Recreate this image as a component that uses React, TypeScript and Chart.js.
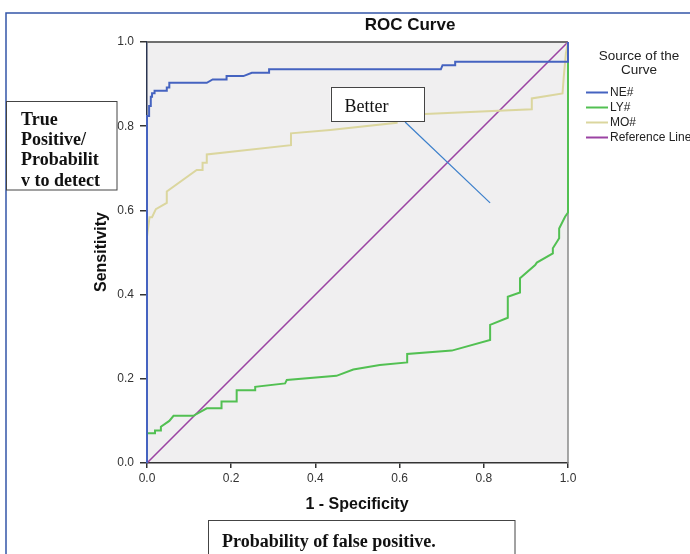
import { useEffect, useRef } from "react";
import { Chart, registerables } from "chart.js";

Chart.register(...registerables);

// ---- data ----
const neX = [0, 0, 0.005, 0.005, 0.009, 0.009, 0.012, 0.012, 0.018, 0.018, 0.047, 0.047, 0.053, 0.053, 0.142, 0.156, 0.189, 0.189, 0.229, 0.249, 0.29, 0.29, 0.698, 0.702, 0.732, 0.732, 0.997, 1.0, 1.0];
const neY = [0, 0.824, 0.824, 0.848, 0.848, 0.87, 0.87, 0.878, 0.878, 0.884, 0.884, 0.892, 0.892, 0.903, 0.903, 0.911, 0.911, 0.919, 0.919, 0.927, 0.927, 0.935, 0.935, 0.945, 0.945, 0.953, 0.953, 0.953, 1.0];

const lyX = [0, 0, 0.019, 0.019, 0.033, 0.033, 0.053, 0.063, 0.063, 0.11, 0.142, 0.177, 0.177, 0.213, 0.213, 0.257, 0.257, 0.328, 0.332, 0.45, 0.49, 0.553, 0.618, 0.618, 0.724, 0.815, 0.815, 0.857, 0.857, 0.886, 0.886, 0.922, 0.926, 0.964, 0.964, 0.979, 0.979, 0.993, 1.0, 1.0];
const lyY = [0, 0.0705, 0.0705, 0.077, 0.077, 0.086, 0.1, 0.112, 0.112, 0.112, 0.13, 0.13, 0.146, 0.146, 0.173, 0.173, 0.181, 0.189, 0.197, 0.207, 0.222, 0.233, 0.239, 0.259, 0.267, 0.292, 0.328, 0.345, 0.395, 0.405, 0.439, 0.47, 0.476, 0.498, 0.51, 0.534, 0.557, 0.585, 0.595, 1.0];

const moX = [0, 0, 0.006, 0.012, 0.021, 0.047, 0.047, 0.118, 0.132, 0.132, 0.142, 0.142, 0.342, 0.342, 0.435, 0.593, 0.593, 0.66, 0.914, 0.914, 0.987, 0.99, 0.995, 1.0];
const moY = [0, 0.538, 0.584, 0.584, 0.603, 0.618, 0.645, 0.696, 0.696, 0.713, 0.713, 0.733, 0.755, 0.783, 0.791, 0.808, 0.826, 0.829, 0.84, 0.866, 0.878, 0.918, 0.973, 1.0];

const refX = [0, 1];
const refY = [0, 1];

const seriesLabels = ["NE#", "LY#", "MO#", "Reference Line"];
const tickValues = [0, 0.2, 0.4, 0.6, 0.8, 1.0];

// annotation "Better" arrow, in data units
const betterArrowX = [0.613, 0.815];
const betterArrowY = [0.81, 0.618];

// ---- styles ----
const seriesColors = ["#4563c0", "#52c052", "#dbd69e", "#9b43a3"];
const SANS = "'Liberation Sans', Arial, sans-serif";
const SERIF = "'Liberation Serif', 'Times New Roman', serif";

const toPoints = (xs: number[], ys: number[]) => xs.map((x, i) => ({ x, y: ys[i] }));

export default function App() {
  const ref = useRef<HTMLCanvasElement | null>(null);

  useEffect(() => {
    const canvas = ref.current;
    if (!canvas) return;

    const decor = {
      id: "decor",
      beforeDraw(chart: any) {
        const { ctx, chartArea: a } = chart;
        ctx.save();
        ctx.fillStyle = "#ffffff";
        ctx.fillRect(0, 0, chart.width, chart.height);
        ctx.fillStyle = "#f0eff0";
        ctx.fillRect(a.left, a.top, a.right - a.left, a.bottom - a.top);
        ctx.restore();
      },
      beforeDatasetsDraw(chart: any) {
        const { ctx, chartArea: a } = chart;
        ctx.save();
        ctx.strokeStyle = "#6f6f6f";
        ctx.lineWidth = 2;
        ctx.beginPath();
        ctx.moveTo(a.left, a.top);
        ctx.lineTo(a.right, a.top);
        ctx.stroke();
        ctx.strokeStyle = "#8a8a8a";
        ctx.lineWidth = 1.5;
        ctx.beginPath();
        ctx.moveTo(a.right, a.top);
        ctx.lineTo(a.right, a.bottom);
        ctx.stroke();
        ctx.restore();
      },
      afterDatasetsDraw(chart: any) {
        const { ctx } = chart;
        const xs = chart.scales.x;
        const ys = chart.scales.y;
        ctx.save();
        // Better arrow line
        ctx.strokeStyle = "#3b7fcb";
        ctx.lineWidth = 1.2;
        ctx.beginPath();
        ctx.moveTo(xs.getPixelForValue(betterArrowX[0]), ys.getPixelForValue(betterArrowY[0]));
        ctx.lineTo(xs.getPixelForValue(betterArrowX[1]), ys.getPixelForValue(betterArrowY[1]));
        ctx.stroke();
        // Better box
        const bl = xs.getPixelForValue(0.436);
        const br = xs.getPixelForValue(0.658);
        const bt = ys.getPixelForValue(0.892);
        const bb = ys.getPixelForValue(0.812);
        ctx.fillStyle = "#ffffff";
        ctx.fillRect(bl, bt, br - bl, bb - bt);
        ctx.strokeStyle = "#444";
        ctx.lineWidth = 1;
        ctx.strokeRect(Math.round(bl) + 0.5, Math.round(bt) + 0.5, Math.round(br - bl), Math.round(bb - bt));
        ctx.fillStyle = "#111";
        ctx.font = `18px ${SERIF}`;
        ctx.textAlign = "left";
        ctx.textBaseline = "alphabetic";
        ctx.fillText("Better", bl + 14, bb - 9);
        ctx.restore();
      },
      afterDraw(chart: any) {
        const { ctx } = chart;
        ctx.save();
        // outer frame
        ctx.strokeStyle = "#3356a8";
        ctx.lineWidth = 1.5;
        ctx.beginPath();
        ctx.moveTo(6, 554);
        ctx.lineTo(6, 13);
        ctx.lineTo(690, 13);
        ctx.stroke();

        // title
        ctx.fillStyle = "#111";
        ctx.textAlign = "center";
        ctx.textBaseline = "middle";
        ctx.font = `bold 17px ${SANS}`;
        ctx.fillText("ROC Curve", 410, 25);

        // axis titles
        ctx.font = `bold 16px ${SANS}`;
        ctx.fillText("1 - Specificity", 357, 505);
        ctx.save();
        ctx.translate(102, 252);
        ctx.rotate(-Math.PI / 2);
        ctx.fillText("Sensitivity", 0, 0);
        ctx.restore();

        // legend
        ctx.fillStyle = "#222";
        ctx.font = `13.5px ${SANS}`;
        ctx.fillText("Source of the", 639, 56);
        ctx.fillText("Curve", 639, 70);
        const rows = [92.5, 107.5, 122.5, 137.5];
        ctx.textAlign = "left";
        ctx.font = `12px ${SANS}`;
        seriesLabels.forEach((lab, i) => {
          ctx.strokeStyle = seriesColors[i];
          ctx.lineWidth = 2;
          ctx.beginPath();
          ctx.moveTo(586, rows[i]);
          ctx.lineTo(608, rows[i]);
          ctx.stroke();
          ctx.fillStyle = "#222";
          ctx.fillText(lab, 610, rows[i]);
        });

        // left annotation box
        ctx.fillStyle = "#ffffff";
        ctx.fillRect(7, 102, 110, 88);
        ctx.strokeStyle = "#444";
        ctx.lineWidth = 1;
        ctx.strokeRect(6.5, 101.5, 110.5, 88.5);
        ctx.fillStyle = "#111";
        ctx.font = `bold 18px ${SERIF}`;
        ctx.textBaseline = "alphabetic";
        ["True", "Positive/", "Probabilit", "v to detect"].forEach((t, i) => {
          ctx.fillText(t, 21, 125 + i * 20.2);
        });

        // bottom annotation box
        ctx.fillStyle = "#ffffff";
        ctx.fillRect(209, 521, 306, 40);
        ctx.strokeRect(208.5, 520.5, 306.5, 50);
        ctx.fillStyle = "#111";
        ctx.fillText("Probability of false positive.", 222, 547);
        ctx.restore();
      },
    };

    const chart = new Chart(canvas, {
      type: "scatter",
      data: {
        datasets: [
          { label: seriesLabels[0], data: toPoints(neX, neY), borderColor: seriesColors[0] },
          { label: seriesLabels[1], data: toPoints(lyX, lyY), borderColor: seriesColors[1] },
          { label: seriesLabels[2], data: toPoints(moX, moY), borderColor: seriesColors[2] },
          { label: seriesLabels[3], data: toPoints(refX, refY), borderColor: seriesColors[3], borderWidth: 1.6 },
        ].map((d: any) => ({
          showLine: true,
          pointRadius: 0,
          borderWidth: 2,
          tension: 0,
          fill: false,
          clip: false,
          ...d,
        })),
      },
      options: {
        animation: false,
        responsive: false,
        devicePixelRatio: 1,
        events: [],
        layout: { padding: { left: 0, top: 42, right: 122, bottom: 0 } },
        plugins: {
          legend: { display: false },
          title: { display: false },
          tooltip: { enabled: false },
        },
        scales: {
          x: {
            type: "linear",
            min: 0,
            max: 1,
            afterBuildTicks: (s: any) => {
              s.ticks = tickValues.map((v) => ({ value: v }));
            },
            afterFit: (s: any) => {
              s.height = 91;
            },
            ticks: {
              callback: (v: any) => Number(v).toFixed(1),
              font: { size: 12, family: SANS },
              color: "#333",
              padding: 3,
              maxRotation: 0,
            },
            grid: { drawOnChartArea: false, drawTicks: true, tickLength: 5, color: "#333", lineWidth: 1.5 },
            border: { display: true, color: "#333", width: 1.5 },
          },
          y: {
            type: "linear",
            min: 0,
            max: 1,
            afterBuildTicks: (s: any) => {
              s.ticks = tickValues.map((v) => ({ value: v }));
            },
            afterFit: (s: any) => {
              s.width = 147;
            },
            ticks: {
              callback: (v: any) => Number(v).toFixed(1),
              font: { size: 12, family: SANS },
              color: "#333",
              padding: 6,
            },
            grid: { drawOnChartArea: false, drawTicks: true, tickLength: 7, color: "#333", lineWidth: 1.5 },
            border: { display: true, color: "#2a3550", width: 1.5 },
          },
        },
      },
      plugins: [decor],
    } as any);

    return () => chart.destroy();
  }, []);

  return (
    <div style={{ position: "absolute", left: 0, top: 0, width: 690, height: 554, background: "#fff" }}>
      <canvas ref={ref} width={690} height={554} style={{ display: "block", width: 690, height: 554 }} />
    </div>
  );
}
